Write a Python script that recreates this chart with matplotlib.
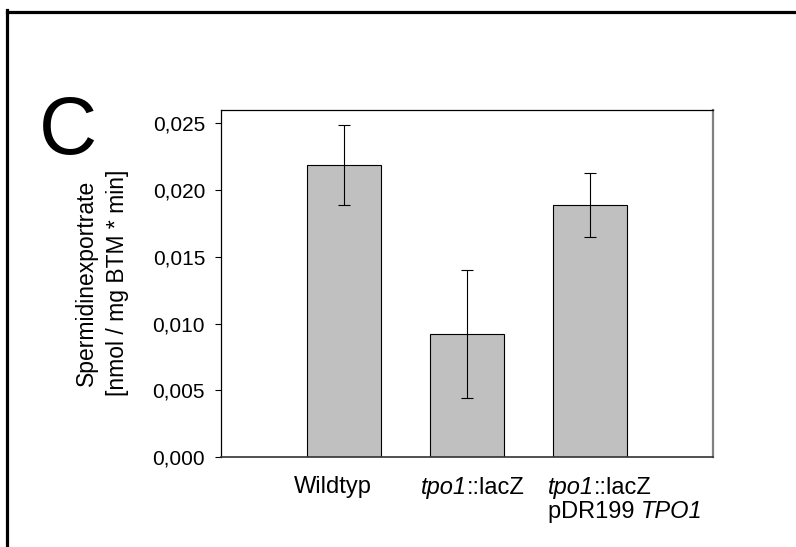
import matplotlib
matplotlib.use('Agg')
import matplotlib.pyplot as plt
from matplotlib.lines import Line2D
from matplotlib.ticker import FixedLocator, FixedFormatter
from matplotlib.offsetbox import TextArea, HPacker, VPacker, AnnotationBbox

plt.rcParams['font.family'] = ['Liberation Sans', 'DejaVu Sans']

# data
# each label: lines, each line: (text, italic) pieces
strains = [
    [[('Wildtyp', False)]],
    [[('tpo1', True), ('::lacZ', False)]],
    [[('tpo1', True), ('::lacZ', False)], [('pDR199 ', False), ('TPO1', True)]],
]
rate = [0.0219, 0.0092, 0.0189]
err = [0.0030, 0.0048, 0.0024]
ytick_vals = [0.0, 0.005, 0.010, 0.015, 0.020, 0.025]
ytick_text = ['0,000', '0,005', '0,010', '0,015', '0,020', '0,025']

fig = plt.figure(figsize=(7.96, 5.47), dpi=100)
ax = fig.add_axes([221 / 796, 1 - 457 / 547, 492 / 796, 347 / 547])

xpos = [i + 1 for i in range(len(rate))]
ax.bar(xpos, rate, width=0.6, color='#c0c0c0', edgecolor='black', linewidth=0.8, zorder=2)
ax.errorbar(xpos, rate, yerr=err, fmt='none', ecolor='black', elinewidth=0.8,
            capsize=4, capthick=0.8, zorder=3)

ax.set_xlim(0, 4)
ax.set_ylim(0, 0.026)
ax.set_xticks([])
ax.yaxis.set_major_locator(FixedLocator(ytick_vals))
ax.yaxis.set_major_formatter(FixedFormatter(ytick_text))
ax.tick_params(axis='y', direction='out', length=4.5, width=0.8, labelsize=15, pad=7)

for s in ['left', 'top']:
    ax.spines[s].set_linewidth(0.9)
ax.spines['bottom'].set_linewidth(1.2)
ax.spines['bottom'].set_color('#333333')
ax.spines['right'].set_linewidth(1.6)
ax.spines['right'].set_color('#808080')

# category labels (placed like the original, not centred on the bars)
lab_x = [0.91, 2.05, 2.66]
lab_align = [(0.5, 1), (0.5, 1), (0, 1)]
for x, lines, al in zip(lab_x, strains, lab_align):
    rows = []
    for pieces in lines:
        parts = [TextArea(t, textprops=dict(fontsize=17, style='italic' if it else 'normal'))
                 for t, it in pieces]
        rows.append(HPacker(children=parts, align='baseline', pad=0, sep=0))
    box = VPacker(children=rows, align='left', pad=0, sep=1)
    ab = AnnotationBbox(box, (x, -0.055), xycoords=('data', 'axes fraction'),
                        box_alignment=al, frameon=False, pad=0, annotation_clip=False)
    ax.add_artist(ab)

fig.text(102 / 796, 1 - 283 / 547, 'Spermidinexportrate\n[nmol / mg BTM * min]', fontsize=16.5,
         rotation=90, ha='center', va='center', multialignment='center', linespacing=1.45)

fig.text(97 / 796, 1 - 154 / 547, 'C', fontsize=58, ha='right', va='baseline')

# panel frame
fig.add_artist(Line2D([7 / 796, 1.0], [1 - 11.5 / 547, 1 - 11.5 / 547], color='black', lw=2.3,
                      transform=fig.transFigure))
fig.add_artist(Line2D([7 / 796, 7 / 796], [0.0, 1 - 10 / 547], color='black', lw=2.3,
                      transform=fig.transFigure))

plt.savefig('out.png', dpi=100)
